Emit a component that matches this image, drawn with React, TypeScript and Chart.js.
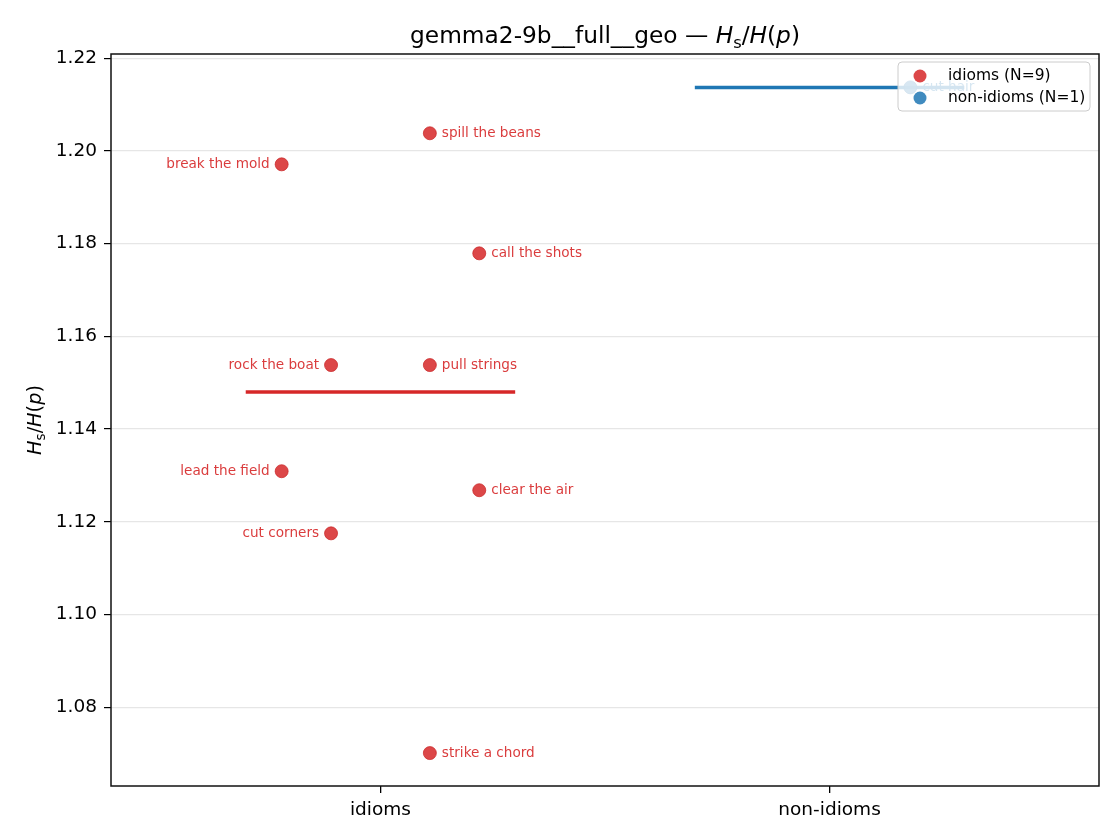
import { useEffect, useRef } from "react"
import { Chart, registerables } from "chart.js"

Chart.register(...registerables)

const categories = ["idioms", "non-idioms"]

const idiomNames = [
  "spill the beans",
  "break the mold",
  "call the shots",
  "rock the boat",
  "pull strings",
  "lead the field",
  "clear the air",
  "cut corners",
  "strike a chord",
]
const idiomValues = [1.2038, 1.1971, 1.1779, 1.1538, 1.1538, 1.1309, 1.1268, 1.1175, 1.0701]
const idiomJitter = [0.11, -0.22, 0.22, -0.11, 0.11, -0.22, 0.22, -0.11, 0.11]

const nonIdiomNames = ["cut hair"]
const nonIdiomValues = [1.2137]
const nonIdiomJitter = [0.18]

const yTicks = [1.08, 1.1, 1.12, 1.14, 1.16, 1.18, 1.2, 1.22]

const RED = "#d62728"
const BLUE = "#1f77b4"
const FONT = "'DejaVu Sans', sans-serif"

type Run = { text: string; italic?: boolean; sub?: boolean }

function mean(v: number[]) {
  return v.reduce((a, b) => a + b, 0) / v.length
}

// draws mixed text/mathtext runs centred on (0,0) of the current transform
function drawRuns(ctx: CanvasRenderingContext2D, runs: Run[], size: number) {
  const fontFor = (r: Run) =>
    `${r.italic ? "italic " : ""}${r.sub ? size * 0.7 : size}px ${FONT}`
  let total = 0
  for (const r of runs) {
    ctx.font = fontFor(r)
    total += ctx.measureText(r.text).width
  }
  let x = -total / 2
  ctx.textAlign = "left"
  ctx.textBaseline = "alphabetic"
  for (const r of runs) {
    ctx.font = fontFor(r)
    ctx.fillText(r.text, x, r.sub ? size * 0.22 : 0)
    x += ctx.measureText(r.text).width
  }
}

const mathRuns: Run[] = [
  { text: "H", italic: true },
  { text: "s", sub: true },
  { text: "/" },
  { text: "H", italic: true },
  { text: "(" },
  { text: "p", italic: true },
  { text: ")" },
]

const decorPlugin = {
  id: "decor",
  afterDatasetsDraw(chart: any) {
    const ctx = chart.ctx as CanvasRenderingContext2D
    const groups = [
      { idx: 0, names: idiomNames, jitter: idiomJitter, color: "rgba(214,39,40,0.9)" },
      { idx: 1, names: nonIdiomNames, jitter: nonIdiomJitter, color: "rgba(31,119,180,0.9)" },
    ]
    ctx.save()
    ctx.font = `13.6px ${FONT}`
    ctx.textBaseline = "middle"
    for (const g of groups) {
      const meta = chart.getDatasetMeta(g.idx)
      meta.data.forEach((pt: any, i: number) => {
        ctx.fillStyle = g.color
        if (g.jitter[i] < 0) {
          ctx.textAlign = "right"
          ctx.fillText(g.names[i], pt.x - 12, pt.y)
        } else {
          ctx.textAlign = "left"
          ctx.fillText(g.names[i], pt.x + 12, pt.y)
        }
      })
    }
    ctx.restore()
  },
  afterDraw(chart: any) {
    const ctx = chart.ctx as CanvasRenderingContext2D
    const a = chart.chartArea
    ctx.save()
    // spines
    ctx.strokeStyle = "#111"
    ctx.lineWidth = 1.5
    ctx.strokeRect(a.left, a.top, a.right - a.left, a.bottom - a.top)

    // title
    ctx.fillStyle = "#000"
    ctx.save()
    ctx.translate((a.left + a.right) / 2, 43)
    drawRuns(ctx, [{ text: "gemma2-9b__full__geo — " }, ...mathRuns], 23.3)
    ctx.restore()

    // y label
    ctx.save()
    ctx.translate(41, (a.top + a.bottom) / 2)
    ctx.rotate(-Math.PI / 2)
    drawRuns(ctx, mathRuns, 19.3)
    ctx.restore()

    // legend
    const lx = a.right - 201
    const ly = a.top + 8
    const lw = 192
    const lh = 49
    ctx.beginPath()
    ctx.roundRect(lx, ly, lw, lh, 4)
    ctx.fillStyle = "rgba(255,255,255,0.8)"
    ctx.fill()
    ctx.strokeStyle = "#cccccc"
    ctx.lineWidth = 1
    ctx.stroke()
    const items = [
      { label: `idioms (N=${idiomValues.length})`, color: "rgba(214,39,40,0.85)" },
      { label: `non-idioms (N=${nonIdiomValues.length})`, color: "rgba(31,119,180,0.85)" },
    ]
    ctx.font = `15.5px ${FONT}`
    ctx.textAlign = "left"
    ctx.textBaseline = "middle"
    items.forEach((it, i) => {
      const cy = ly + 14 + i * 22
      ctx.beginPath()
      ctx.arc(lx + 22, cy, 6.5, 0, Math.PI * 2)
      ctx.fillStyle = it.color
      ctx.fill()
      ctx.fillStyle = "#000"
      ctx.fillText(it.label, lx + 50, cy)
    })
    ctx.restore()
  },
}

export default function App() {
  const chartRef = useRef<HTMLCanvasElement>(null)
  const chartInstance = useRef<Chart | null>(null)

  useEffect(() => {
    document.body.style.margin = "0"
    if (!chartRef.current) return
    if (chartInstance.current) chartInstance.current.destroy()
    const ctx = chartRef.current.getContext("2d")
    if (!ctx) return

    const idiomMean = mean(idiomValues)
    const nonIdiomMean = mean(nonIdiomValues)

    chartInstance.current = new Chart(ctx, {
      type: "scatter",
      data: {
        datasets: [
          {
            label: "idioms",
            data: idiomValues.map((v, i) => ({ x: 0 + idiomJitter[i], y: v })),
            backgroundColor: "rgba(214,39,40,0.85)",
            borderColor: "rgba(200,35,36,0.9)",
            pointRadius: 6.5,
            borderWidth: 0.8,
            order: 0,
          },
          {
            label: "non-idioms",
            data: nonIdiomValues.map((v, i) => ({ x: 1 + nonIdiomJitter[i], y: v })),
            backgroundColor: "rgba(31,119,180,0.85)",
            borderColor: "rgba(28,110,168,0.9)",
            pointRadius: 6.5,
            borderWidth: 0.8,
            order: 0,
          },
          {
            type: "line",
            label: "idioms mean",
            data: [
              { x: -0.3, y: idiomMean },
              { x: 0.3, y: idiomMean },
            ],
            borderColor: RED,
            borderWidth: 3.5,
            pointRadius: 0,
            showLine: true,
            order: 1,
          },
          {
            type: "line",
            label: "non-idioms mean",
            data: [
              { x: 0.7, y: nonIdiomMean },
              { x: 1.3, y: nonIdiomMean },
            ],
            borderColor: BLUE,
            borderWidth: 3.5,
            pointRadius: 0,
            showLine: true,
            order: 1,
          },
        ],
      },
      options: {
        responsive: false,
        animation: false,
        devicePixelRatio: 1,
        layout: { padding: { top: 54, right: 21, left: 0, bottom: 0 } },
        scales: {
          x: {
            type: "linear",
            min: -0.6,
            max: 1.6,
            afterBuildTicks: (scale: any) => {
              scale.ticks = categories.map((_, i) => ({ value: i }))
            },
            afterFit: (scale: any) => {
              scale.height = 54
            },
            ticks: {
              callback: (v: any) => categories[Math.round(Number(v))] ?? "",
              color: "#000",
              font: { family: FONT, size: 18.5 },
              padding: 6,
              maxRotation: 0,
            },
            grid: {
              drawOnChartArea: false,
              tickColor: "#000",
              tickLength: 7,
              lineWidth: 1.3,
            },
            border: { display: false },
          },
          y: {
            type: "linear",
            min: 1.063,
            max: 1.2209,
            afterBuildTicks: (scale: any) => {
              scale.ticks = yTicks.map((v) => ({ value: v }))
            },
            afterFit: (scale: any) => {
              scale.width = 111
            },
            ticks: {
              callback: (v: any) => Number(v).toFixed(2),
              color: "#000",
              font: { family: FONT, size: 18.5 },
              padding: 7,
            },
            grid: {
              color: "#e6e6e6",
              lineWidth: 1.2,
              tickColor: "#000",
              tickLength: 7,
            },
            border: { display: false },
          },
        },
        plugins: {
          legend: { display: false },
          title: { display: false },
          tooltip: { enabled: false },
        },
      },
      plugins: [decorPlugin],
    } as any)

    return () => {
      if (chartInstance.current) {
        chartInstance.current.destroy()
        chartInstance.current = null
      }
    }
  }, [])

  return (
    <canvas
      ref={chartRef}
      width={1120}
      height={840}
      style={{ display: "block", width: 1120, height: 840 }}
    />
  )
}
